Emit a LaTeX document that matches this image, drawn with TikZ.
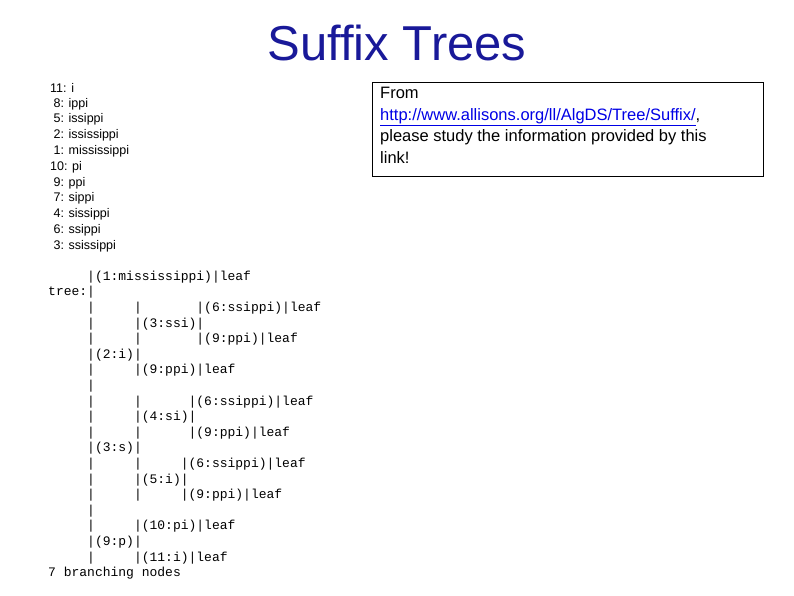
\documentclass[tikz,border=0pt]{standalone}
\usepackage{fontspec}
\setmainfont{Liberation Sans}
\setmonofont{Liberation Mono}
\definecolor{navy}{rgb}{0.1,0.1,0.6}
\begin{document}
\begin{tikzpicture}[x=1pt,y=-1pt,
  mono/.style={anchor=west,inner sep=0pt,font=\fontsize{13}{13}\ttfamily},
  suf/.style={anchor=west,inner sep=0pt,font=\fontsize{12.5}{12.5}\selectfont},
  note/.style={anchor=north west,inner sep=0pt,font=\fontsize{16.5}{21.7}\selectfont,align=left}]
\useasboundingbox (0,0) rectangle (794,595);
\node[inner sep=0pt,font=\fontsize{49}{49}\selectfont,text=navy] (title) at (397,43) {Suffix Trees};
\foreach \t [count=\i from 0] in {11: i,~8: ippi,~5: issippi,~2: ississippi,~1: mississippi,10: pi,~9: ppi,~7: sippi,~4: sissippi,~6: ssippi,~3: ssissippi}
  \node[suf] (s\i) at (50,88+15.8*\i) {\t};
\draw (372,82) rectangle (763,176);
\node[note] (box) at (380,87) {From\\\textcolor[rgb]{0,0,0.9}{\underline{http://www.allisons.org/ll/AlgDS/Tree/Suffix/}},\\please study the information provided by this\\link!};
\foreach \t [count=\i from 0] in {
~~~~~|(1:mississippi)|leaf,
tree:|,
~~~~~|~~~~~|~~~~~~~|(6:ssippi)|leaf,
~~~~~|~~~~~|(3:ssi)|,
~~~~~|~~~~~|~~~~~~~|(9:ppi)|leaf,
~~~~~|(2:i)|,
~~~~~|~~~~~|(9:ppi)|leaf,
~~~~~|,
~~~~~|~~~~~|~~~~~~|(6:ssippi)|leaf,
~~~~~|~~~~~|(4:si)|,
~~~~~|~~~~~|~~~~~~|(9:ppi)|leaf,
~~~~~|(3:s)|,
~~~~~|~~~~~|~~~~~|(6:ssippi)|leaf,
~~~~~|~~~~~|(5:i)|,
~~~~~|~~~~~|~~~~~|(9:ppi)|leaf,
~~~~~|,
~~~~~|~~~~~|(10:pi)|leaf,
~~~~~|(9:p)|,
~~~~~|~~~~~|(11:i)|leaf,
7 branching nodes}
  \node[mono] (t\i) at (48,277+15.6*\i) {\t};
\end{tikzpicture}
\end{document}
